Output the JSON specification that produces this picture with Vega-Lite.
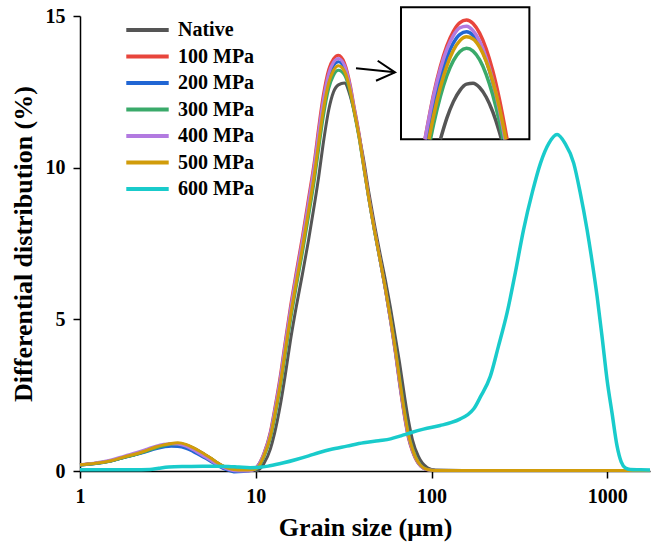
{
  "$schema": "https://vega.github.io/schema/vega-lite/v6.json",
  "autosize": {"type": "none"},
  "padding": {"left": 80, "top": 16, "right": 3, "bottom": 72},
  "width": 570,
  "height": 455,
  "background": "white",
  "config": {
    "view": {"stroke": null},
    "font": "Liberation Serif",
    "axis": {"domainColor": "black", "domainWidth": 1.5, "tickColor": "black", "tickWidth": 1.5, "tickSize": 7, "labelFont": "Liberation Serif", "labelFontSize": 20, "labelFontWeight": "bold", "labelColor": "black", "titleFont": "Liberation Serif", "titleFontSize": 26, "titleFontWeight": "bold", "titleColor": "black", "grid": false, "labelFlush": false, "labelOverlap": false},
    "legend": {"orient": "none", "legendX": 44, "legendY": 4, "title": null, "padding": 0, "symbolType": "stroke", "symbolSize": 1800, "symbolStrokeWidth": 4, "clipHeight": 20, "rowPadding": 6.5, "labelOffset": 7, "labelFont": "Liberation Serif", "labelFontSize": 20, "labelFontWeight": "bold", "labelColor": "black"}
  },
  "datasets": {
    "main": [
      {"x": 1, "Native": 0.21, "100 MPa": 0.21, "200 MPa": 0.20, "300 MPa": 0.20, "400 MPa": 0.21, "500 MPa": 0.21},
      {"x": 1.2, "Native": 0.25, "100 MPa": 0.25, "200 MPa": 0.24, "300 MPa": 0.24, "400 MPa": 0.26, "500 MPa": 0.25},
      {"x": 1.5, "Native": 0.34, "100 MPa": 0.34, "200 MPa": 0.33, "300 MPa": 0.33, "400 MPa": 0.36, "500 MPa": 0.34},
      {"x": 1.8, "Native": 0.46, "100 MPa": 0.46, "200 MPa": 0.45, "300 MPa": 0.45, "400 MPa": 0.50, "500 MPa": 0.47},
      {"x": 2.1, "Native": 0.56, "100 MPa": 0.56, "200 MPa": 0.55, "300 MPa": 0.55, "400 MPa": 0.61, "500 MPa": 0.57},
      {"x": 2.4, "Native": 0.67, "100 MPa": 0.67, "200 MPa": 0.64, "300 MPa": 0.66, "400 MPa": 0.72, "500 MPa": 0.68},
      {"x": 2.7, "Native": 0.77, "100 MPa": 0.77, "200 MPa": 0.73, "300 MPa": 0.76, "400 MPa": 0.82, "500 MPa": 0.79},
      {"x": 3.0, "Native": 0.84, "100 MPa": 0.84, "200 MPa": 0.79, "300 MPa": 0.83, "400 MPa": 0.88, "500 MPa": 0.86},
      {"x": 3.3, "Native": 0.89, "100 MPa": 0.89, "200 MPa": 0.82, "300 MPa": 0.88, "400 MPa": 0.90, "500 MPa": 0.91},
      {"x": 3.6, "Native": 0.90, "100 MPa": 0.90, "200 MPa": 0.81, "300 MPa": 0.89, "400 MPa": 0.89, "500 MPa": 0.93},
      {"x": 4.0, "Native": 0.86, "100 MPa": 0.86, "200 MPa": 0.75, "300 MPa": 0.85, "400 MPa": 0.82, "500 MPa": 0.88},
      {"x": 4.4, "Native": 0.76, "100 MPa": 0.75, "200 MPa": 0.64, "300 MPa": 0.75, "400 MPa": 0.70, "500 MPa": 0.77},
      {"x": 4.8, "Native": 0.64, "100 MPa": 0.63, "200 MPa": 0.52, "300 MPa": 0.63, "400 MPa": 0.57, "500 MPa": 0.65},
      {"x": 5.2, "Native": 0.52, "100 MPa": 0.51, "200 MPa": 0.41, "300 MPa": 0.51, "400 MPa": 0.45, "500 MPa": 0.53},
      {"x": 5.6, "Native": 0.40, "100 MPa": 0.39, "200 MPa": 0.30, "300 MPa": 0.40, "400 MPa": 0.33, "500 MPa": 0.41},
      {"x": 6.0, "Native": 0.28, "100 MPa": 0.27, "200 MPa": 0.19, "300 MPa": 0.28, "400 MPa": 0.22, "500 MPa": 0.29},
      {"x": 6.5, "Native": 0.16, "100 MPa": 0.15, "200 MPa": 0.09, "300 MPa": 0.16, "400 MPa": 0.12, "500 MPa": 0.17},
      {"x": 7.0, "Native": 0.08, "100 MPa": 0.07, "200 MPa": 0.02, "300 MPa": 0.08, "400 MPa": 0.05, "500 MPa": 0.09},
      {"x": 7.5, "Native": 0.04, "100 MPa": 0.03, "200 MPa": -0.03, "300 MPa": 0.04, "400 MPa": 0.01, "500 MPa": 0.05},
      {"x": 8.5, "Native": 0.03, "100 MPa": 0.02, "200 MPa": -0.02, "300 MPa": 0.03, "400 MPa": 0.00, "500 MPa": 0.03},
      {"x": 9.5, "Native": 0.03, "100 MPa": 0.04, "200 MPa": 0.02, "300 MPa": 0.04, "400 MPa": 0.02, "500 MPa": 0.04},
      {"x": 10.18, "Native": 0.02, "100 MPa": 0.15, "200 MPa": 0.13, "300 MPa": 0.08, "400 MPa": 0.14, "500 MPa": 0.10},
      {"x": 11.11, "Native": 0.24, "100 MPa": 0.58, "200 MPa": 0.53, "300 MPa": 0.45, "400 MPa": 0.56, "500 MPa": 0.49},
      {"x": 12.12, "Native": 0.73, "100 MPa": 1.31, "200 MPa": 1.23, "300 MPa": 1.09, "400 MPa": 1.26, "500 MPa": 1.15},
      {"x": 12.78, "Native": 1.23, "100 MPa": 2.02, "200 MPa": 1.90, "300 MPa": 1.71, "400 MPa": 1.95, "500 MPa": 1.80},
      {"x": 13.82, "Native": 2.20, "100 MPa": 3.18, "200 MPa": 3.03, "300 MPa": 2.79, "400 MPa": 3.09, "500 MPa": 2.90},
      {"x": 14.75, "Native": 3.20, "100 MPa": 4.32, "200 MPa": 4.15, "300 MPa": 3.87, "400 MPa": 4.23, "500 MPa": 4.00},
      {"x": 15.76, "Native": 4.31, "100 MPa": 5.43, "200 MPa": 5.25, "300 MPa": 4.96, "400 MPa": 5.33, "500 MPa": 5.10},
      {"x": 16.98, "Native": 5.40, "100 MPa": 6.55, "200 MPa": 6.36, "300 MPa": 6.06, "400 MPa": 6.44, "500 MPa": 6.20},
      {"x": 18.36, "Native": 6.44, "100 MPa": 7.68, "200 MPa": 7.47, "300 MPa": 7.14, "400 MPa": 7.56, "500 MPa": 7.30},
      {"x": 19.94, "Native": 7.59, "100 MPa": 8.98, "200 MPa": 8.74, "300 MPa": 8.37, "400 MPa": 8.85, "500 MPa": 8.55},
      {"x": 21.58, "Native": 8.80, "100 MPa": 10.25, "200 MPa": 10.00, "300 MPa": 9.61, "400 MPa": 10.12, "500 MPa": 9.80},
      {"x": 22.83, "Native": 9.72, "100 MPa": 11.36, "200 MPa": 11.07, "300 MPa": 10.64, "400 MPa": 11.21, "500 MPa": 10.85},
      {"x": 24.17, "Native": 10.77, "100 MPa": 12.36, "200 MPa": 12.07, "300 MPa": 11.64, "400 MPa": 12.20, "500 MPa": 11.85},
      {"x": 26.02, "Native": 11.91, "100 MPa": 13.25, "200 MPa": 12.99, "300 MPa": 12.61, "400 MPa": 13.11, "500 MPa": 12.80},
      {"x": 27.67, "Native": 12.49, "100 MPa": 13.59, "200 MPa": 13.36, "300 MPa": 13.04, "400 MPa": 13.47, "500 MPa": 13.20},
      {"x": 29.54, "Native": 12.73, "100 MPa": 13.71, "200 MPa": 13.49, "300 MPa": 13.21, "400 MPa": 13.60, "500 MPa": 13.36},
      {"x": 31.96, "Native": 12.79, "100 MPa": 13.46, "200 MPa": 13.28, "300 MPa": 13.06, "400 MPa": 13.38, "500 MPa": 13.18},
      {"x": 34.6, "Native": 12.33, "100 MPa": 12.69, "200 MPa": 12.56, "300 MPa": 12.42, "400 MPa": 12.63, "500 MPa": 12.50},
      {"x": 35.96, "Native": 11.96, "100 MPa": 12.14, "200 MPa": 12.04, "300 MPa": 11.94, "400 MPa": 12.10, "500 MPa": 12.00},
      {"x": 38.9, "Native": 11.00, "100 MPa": 11.05, "200 MPa": 10.96, "300 MPa": 10.91, "400 MPa": 11.01, "500 MPa": 10.95},
      {"x": 41.0, "Native": 10.29, "100 MPa": 10.16, "200 MPa": 10.10, "300 MPa": 10.07, "400 MPa": 10.14, "500 MPa": 10.10},
      {"x": 43.8, "Native": 9.25, "100 MPa": 9.09, "200 MPa": 9.04, "300 MPa": 9.03, "400 MPa": 9.07, "500 MPa": 9.05},
      {"x": 47.3, "Native": 8.14, "100 MPa": 7.98, "200 MPa": 7.94, "300 MPa": 7.93, "400 MPa": 7.97, "500 MPa": 7.95},
      {"x": 51.2, "Native": 7.10, "100 MPa": 6.90, "200 MPa": 6.88, "300 MPa": 6.90, "400 MPa": 6.90, "500 MPa": 6.90},
      {"x": 54.7, "Native": 6.28, "100 MPa": 5.97, "200 MPa": 5.97, "300 MPa": 6.01, "400 MPa": 5.98, "500 MPa": 6.00},
      {"x": 58.4, "Native": 5.38, "100 MPa": 4.96, "200 MPa": 4.98, "300 MPa": 5.05, "400 MPa": 4.98, "500 MPa": 5.03},
      {"x": 62.3, "Native": 4.40, "100 MPa": 3.88, "200 MPa": 3.93, "300 MPa": 4.04, "400 MPa": 3.92, "500 MPa": 4.00},
      {"x": 65.7, "Native": 3.59, "100 MPa": 2.89, "200 MPa": 2.96, "300 MPa": 3.11, "400 MPa": 2.94, "500 MPa": 3.05},
      {"x": 70.1, "Native": 2.49, "100 MPa": 1.80, "200 MPa": 1.87, "300 MPa": 2.01, "400 MPa": 1.85, "500 MPa": 1.95},
      {"x": 73.9, "Native": 1.67, "100 MPa": 1.08, "200 MPa": 1.14, "300 MPa": 1.25, "400 MPa": 1.12, "500 MPa": 1.20},
      {"x": 77.9, "Native": 1.03, "100 MPa": 0.64, "200 MPa": 0.68, "300 MPa": 0.75, "400 MPa": 0.66, "500 MPa": 0.72},
      {"x": 84.2, "Native": 0.48, "100 MPa": 0.24, "200 MPa": 0.26, "300 MPa": 0.30, "400 MPa": 0.25, "500 MPa": 0.28},
      {"x": 94.8, "Native": 0.11, "100 MPa": 0.04, "200 MPa": 0.045, "300 MPa": 0.05, "400 MPa": 0.04, "500 MPa": 0.05},
      {"x": 105.2, "Native": 0.03, "100 MPa": 0.02, "200 MPa": 0.02, "300 MPa": 0.02, "400 MPa": 0.02, "500 MPa": 0.02},
      {"x": 150, "Native": 0.02, "100 MPa": 0.02, "200 MPa": 0.02, "300 MPa": 0.02, "400 MPa": 0.02, "500 MPa": 0.02},
      {"x": 300, "Native": 0.02, "100 MPa": 0.02, "200 MPa": 0.02, "300 MPa": 0.02, "400 MPa": 0.02, "500 MPa": 0.02},
      {"x": 600, "Native": 0.02, "100 MPa": 0.02, "200 MPa": 0.02, "300 MPa": 0.02, "400 MPa": 0.02, "500 MPa": 0.02},
      {"x": 1000, "Native": 0.02, "100 MPa": 0.02, "200 MPa": 0.02, "300 MPa": 0.02, "400 MPa": 0.02, "500 MPa": 0.02},
      {"x": 1750, "Native": 0.02, "100 MPa": 0.02, "200 MPa": 0.02, "300 MPa": 0.02, "400 MPa": 0.02, "500 MPa": 0.02}
    ],
    "cyan": [
      {"s": "600 MPa", "x": 1, "y": 0.04},
      {"s": "600 MPa", "x": 1.5, "y": 0.04},
      {"s": "600 MPa", "x": 2.0, "y": 0.04},
      {"s": "600 MPa", "x": 2.5, "y": 0.05},
      {"s": "600 MPa", "x": 2.8, "y": 0.09},
      {"s": "600 MPa", "x": 3.2, "y": 0.13},
      {"s": "600 MPa", "x": 4, "y": 0.15},
      {"s": "600 MPa", "x": 5, "y": 0.16},
      {"s": "600 MPa", "x": 6, "y": 0.16},
      {"s": "600 MPa", "x": 7, "y": 0.15},
      {"s": "600 MPa", "x": 8, "y": 0.13},
      {"s": "600 MPa", "x": 9.3, "y": 0.11},
      {"s": "600 MPa", "x": 10.5, "y": 0.12},
      {"s": "600 MPa", "x": 12, "y": 0.17},
      {"s": "600 MPa", "x": 14.4, "y": 0.27},
      {"s": "600 MPa", "x": 17, "y": 0.38},
      {"s": "600 MPa", "x": 20, "y": 0.5},
      {"s": "600 MPa", "x": 23, "y": 0.61},
      {"s": "600 MPa", "x": 26.6, "y": 0.71},
      {"s": "600 MPa", "x": 33, "y": 0.82},
      {"s": "600 MPa", "x": 41, "y": 0.93},
      {"s": "600 MPa", "x": 50, "y": 1.0},
      {"s": "600 MPa", "x": 58.5, "y": 1.06},
      {"s": "600 MPa", "x": 67, "y": 1.16},
      {"s": "600 MPa", "x": 76, "y": 1.26},
      {"s": "600 MPa", "x": 90, "y": 1.38},
      {"s": "600 MPa", "x": 112, "y": 1.5},
      {"s": "600 MPa", "x": 130, "y": 1.6},
      {"s": "600 MPa", "x": 146, "y": 1.72},
      {"s": "600 MPa", "x": 160, "y": 1.85},
      {"s": "600 MPa", "x": 174, "y": 2.05},
      {"s": "600 MPa", "x": 190, "y": 2.45},
      {"s": "600 MPa", "x": 216, "y": 3.12},
      {"s": "600 MPa", "x": 240, "y": 4.1},
      {"s": "600 MPa", "x": 269, "y": 5.21},
      {"s": "600 MPa", "x": 300, "y": 6.55},
      {"s": "600 MPa", "x": 334, "y": 7.96},
      {"s": "600 MPa", "x": 375, "y": 9.2},
      {"s": "600 MPa", "x": 417, "y": 10.15},
      {"s": "600 MPa", "x": 465, "y": 10.8},
      {"s": "600 MPa", "x": 518, "y": 11.09},
      {"s": "600 MPa", "x": 575, "y": 10.8},
      {"s": "600 MPa", "x": 644, "y": 10.15},
      {"s": "600 MPa", "x": 700, "y": 9.2},
      {"s": "600 MPa", "x": 767, "y": 7.96},
      {"s": "600 MPa", "x": 820, "y": 6.9},
      {"s": "600 MPa", "x": 875, "y": 5.76},
      {"s": "600 MPa", "x": 935, "y": 4.4},
      {"s": "600 MPa", "x": 997, "y": 3.01},
      {"s": "600 MPa", "x": 1065, "y": 1.9},
      {"s": "600 MPa", "x": 1137, "y": 0.82},
      {"s": "600 MPa", "x": 1200, "y": 0.3},
      {"s": "600 MPa", "x": 1268, "y": 0.1},
      {"s": "600 MPa", "x": 1350, "y": 0.05},
      {"s": "600 MPa", "x": 1543, "y": 0.04},
      {"s": "600 MPa", "x": 1750, "y": 0.03}
    ],
    "inset": [
      {"s": "Native", "ix": 29.01, "iy": 12.0}, {"s": "Native", "ix": 29.5, "iy": 12.3}, {"s": "Native", "ix": 30, "iy": 12.534}, {"s": "Native", "ix": 30.5, "iy": 12.694}, {"s": "Native", "ix": 31, "iy": 12.781}, {"s": "Native", "ix": 31.5, "iy": 12.794}, {"s": "Native", "ix": 32, "iy": 12.734}, {"s": "Native", "ix": 32.5, "iy": 12.6}, {"s": "Native", "ix": 33, "iy": 12.393}, {"s": "Native", "ix": 33.5, "iy": 12.112}, {"s": "Native", "ix": 33.67, "iy": 12.0},
      {"s": "100 MPa", "ix": 27.83, "iy": 12.0}, {"s": "100 MPa", "ix": 28.5, "iy": 12.649}, {"s": "100 MPa", "ix": 29, "iy": 13.029}, {"s": "100 MPa", "ix": 29.5, "iy": 13.323}, {"s": "100 MPa", "ix": 30, "iy": 13.531}, {"s": "100 MPa", "ix": 30.5, "iy": 13.654}, {"s": "100 MPa", "ix": 31, "iy": 13.69}, {"s": "100 MPa", "ix": 31.5, "iy": 13.64}, {"s": "100 MPa", "ix": 32, "iy": 13.504}, {"s": "100 MPa", "ix": 32.5, "iy": 13.282}, {"s": "100 MPa", "ix": 33, "iy": 12.974}, {"s": "100 MPa", "ix": 33.5, "iy": 12.58}, {"s": "100 MPa", "ix": 34.1, "iy": 12.0},
      {"s": "200 MPa", "ix": 27.98, "iy": 12.0}, {"s": "200 MPa", "ix": 28.5, "iy": 12.483}, {"s": "200 MPa", "ix": 29, "iy": 12.863}, {"s": "200 MPa", "ix": 29.5, "iy": 13.157}, {"s": "200 MPa", "ix": 30, "iy": 13.365}, {"s": "200 MPa", "ix": 30.5, "iy": 13.488}, {"s": "200 MPa", "ix": 31, "iy": 13.524}, {"s": "200 MPa", "ix": 31.5, "iy": 13.474}, {"s": "200 MPa", "ix": 32, "iy": 13.338}, {"s": "200 MPa", "ix": 32.5, "iy": 13.116}, {"s": "200 MPa", "ix": 33, "iy": 12.808}, {"s": "200 MPa", "ix": 33.5, "iy": 12.414}, {"s": "200 MPa", "ix": 33.94, "iy": 12.0},
      {"s": "300 MPa", "ix": 28.25, "iy": 12.0}, {"s": "300 MPa", "ix": 28.5, "iy": 12.222}, {"s": "300 MPa", "ix": 29, "iy": 12.604}, {"s": "300 MPa", "ix": 29.5, "iy": 12.901}, {"s": "300 MPa", "ix": 30, "iy": 13.114}, {"s": "300 MPa", "ix": 30.5, "iy": 13.244}, {"s": "300 MPa", "ix": 31, "iy": 13.289}, {"s": "300 MPa", "ix": 31.5, "iy": 13.25}, {"s": "300 MPa", "ix": 32, "iy": 13.128}, {"s": "300 MPa", "ix": 32.5, "iy": 12.921}, {"s": "300 MPa", "ix": 33, "iy": 12.63}, {"s": "300 MPa", "ix": 33.5, "iy": 12.256}, {"s": "300 MPa", "ix": 33.79, "iy": 12.0},
      {"s": "400 MPa", "ix": 27.83, "iy": 12.0}, {"s": "400 MPa", "ix": 28.5, "iy": 12.627}, {"s": "400 MPa", "ix": 29, "iy": 12.994}, {"s": "400 MPa", "ix": 29.5, "iy": 13.275}, {"s": "400 MPa", "ix": 30, "iy": 13.47}, {"s": "400 MPa", "ix": 30.5, "iy": 13.58}, {"s": "400 MPa", "ix": 31, "iy": 13.603}, {"s": "400 MPa", "ix": 31.5, "iy": 13.54}, {"s": "400 MPa", "ix": 32, "iy": 13.391}, {"s": "400 MPa", "ix": 32.5, "iy": 13.156}, {"s": "400 MPa", "ix": 33, "iy": 12.836}, {"s": "400 MPa", "ix": 33.5, "iy": 12.429}, {"s": "400 MPa", "ix": 33.94, "iy": 12.0},
      {"s": "500 MPa", "ix": 28.13, "iy": 12.0}, {"s": "500 MPa", "ix": 28.5, "iy": 12.343}, {"s": "500 MPa", "ix": 29, "iy": 12.733}, {"s": "500 MPa", "ix": 29.5, "iy": 13.039}, {"s": "500 MPa", "ix": 30, "iy": 13.261}, {"s": "500 MPa", "ix": 30.5, "iy": 13.398}, {"s": "500 MPa", "ix": 31, "iy": 13.452}, {"s": "500 MPa", "ix": 31.5, "iy": 13.422}, {"s": "500 MPa", "ix": 32, "iy": 13.308}, {"s": "500 MPa", "ix": 32.5, "iy": 13.109}, {"s": "500 MPa", "ix": 33, "iy": 12.827}, {"s": "500 MPa", "ix": 33.5, "iy": 12.461}, {"s": "500 MPa", "ix": 34.01, "iy": 12.0}
    ],
    "box": [{"x1": 26, "x2": 35.8, "y1": 12.0, "y2": 13.87}],
    "arrow": [
      {"seg": "shaft", "o": 1, "ix": 22.565, "iy": 13.006},
      {"seg": "shaft", "o": 2, "ix": 25.542, "iy": 12.949},
      {"seg": "head", "o": 1, "ix": 24.221, "iy": 13.113},
      {"seg": "head", "o": 2, "ix": 25.542, "iy": 12.949},
      {"seg": "head", "o": 3, "ix": 24.092, "iy": 12.830}
    ]
  },
  "layer": [
    {
      "layer": [
        {
          "data": {"name": "main"},
          "transform": [{"fold": ["Native", "100 MPa", "200 MPa", "300 MPa", "400 MPa", "500 MPa"], "as": ["s", "y"]}],
          "mark": {"type": "line", "interpolate": "monotone", "strokeWidth": 3},
          "encoding": {
            "x": {"field": "x", "type": "quantitative", "scale": {"type": "log", "domain": [1, 1750], "nice": false},
                  "axis": {"values": [1, 10, 100, 1000], "format": "d", "title": "Grain size (μm)", "labelPadding": 8, "titlePadding": 8}},
            "y": {"field": "y", "type": "quantitative", "scale": {"domain": [0, 15], "nice": false, "zero": false},
                  "axis": {"values": [0, 5, 10, 15], "title": "Differential distribution (%)", "labelPadding": 8, "titlePadding": 9}},
            "color": {"field": "s", "type": "nominal",
                      "scale": {"domain": ["Native", "100 MPa", "200 MPa", "300 MPa", "400 MPa", "500 MPa", "600 MPa"],
                                "range": ["#555555", "#e8453c", "#2166d4", "#3aaa6a", "#b27ae0", "#d19c0a", "#19cbcb"]}}
          }
        },
        {
          "data": {"name": "cyan"},
          "mark": {"type": "line", "interpolate": "monotone", "strokeWidth": 3.5},
          "encoding": {
            "x": {"field": "x", "type": "quantitative", "scale": {"type": "log", "domain": [1, 1750], "nice": false}},
            "y": {"field": "y", "type": "quantitative", "scale": {"domain": [0, 15], "nice": false, "zero": false}},
            "color": {"field": "s", "type": "nominal"}
          }
        }
      ]
    },
    {
      "layer": [
        {
          "data": {"name": "box"},
          "mark": {"type": "rect", "fill": "white", "stroke": "black", "strokeWidth": 2},
          "encoding": {
            "x": {"field": "x1", "type": "quantitative", "scale": {"domain": [1.496, 45.008], "nice": false, "zero": false}, "axis": null},
            "x2": {"field": "x2"},
            "y": {"field": "y1", "type": "quantitative", "scale": {"domain": [7.301, 13.747], "nice": false, "zero": false}, "axis": null},
            "y2": {"field": "y2"}
          }
        },
        {
          "data": {"name": "inset"},
          "mark": {"type": "line", "interpolate": "monotone", "strokeWidth": 3.5},
          "encoding": {
            "x": {"field": "ix", "type": "quantitative", "scale": {"domain": [1.496, 45.008], "nice": false, "zero": false}, "axis": null},
            "y": {"field": "iy", "type": "quantitative", "scale": {"domain": [7.301, 13.747], "nice": false, "zero": false}, "axis": null},
            "color": {"field": "s", "type": "nominal"}
          }
        },
        {
          "data": {"name": "arrow"},
          "mark": {"type": "line", "color": "black", "strokeWidth": 2, "strokeJoin": "miter"},
          "encoding": {
            "x": {"field": "ix", "type": "quantitative", "scale": {"domain": [1.496, 45.008], "nice": false, "zero": false}, "axis": null},
            "y": {"field": "iy", "type": "quantitative", "scale": {"domain": [7.301, 13.747], "nice": false, "zero": false}, "axis": null},
            "detail": {"field": "seg"},
            "order": {"field": "o", "type": "quantitative"}
          }
        }
      ]
    }
  ],
  "resolve": {"scale": {"x": "independent", "y": "independent"}}
}
